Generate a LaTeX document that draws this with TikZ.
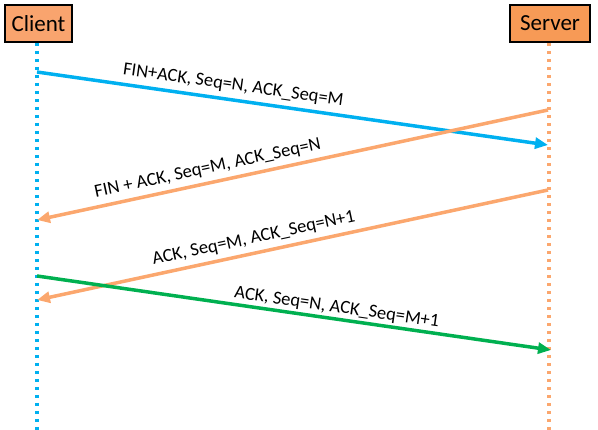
\documentclass[tikz,border=0pt]{standalone}
\usepackage{fontspec}
\setmainfont{Carlito}
\usetikzlibrary{arrows.meta,positioning}
\definecolor{skyline}{HTML}{00B0F0}
\definecolor{peach}{HTML}{F9A46E}
\definecolor{tangerine}{HTML}{F79A56}
\definecolor{peachline}{HTML}{FBA76E}
\definecolor{leaf}{HTML}{00B050}
\tikzset{actor/.style={draw=black,line width=2pt,fill=peach,minimum height=37pt,inner sep=4pt,font=\fontsize{23}{27}\selectfont},lifeline/.style={line width=3.5pt,dash pattern=on 3.5pt off 4.5pt},msg/.style={-{Triangle[length=13pt,width=11pt]},line width=3.5pt},lbl/.style={sloped,above=2pt,inner sep=3pt,font=\fontsize{18.5}{22}\selectfont}}

\begin{document}
\begin{tikzpicture}[x=1pt,y=-1pt]
\useasboundingbox (0,0) rectangle (598,430);
\node[actor,minimum width=67pt] (client) at (38.5,23.5) {Client};
\node[actor,minimum width=80pt,fill=tangerine] (server) at (550,23.5) {Server};
\coordinate (cend) at (37,430);
\coordinate (send) at (549,430);
\draw[lifeline,draw=skyline] (client.south -| cend) -- (cend);
\draw[lifeline,draw=peachline] (server.south -| send) -- (send);
% messages
\coordinate (c1) at (37,72);
\coordinate (s1) at (548,145);
\coordinate (s2) at (548,110);
\coordinate (c2) at (37,220);
\coordinate (s3) at (548,190);
\coordinate (c3) at (37,300);
\coordinate (c4) at (37,276);
\coordinate (s4) at (551,350);
\draw[msg,draw=skyline] (c1)--node[lbl,pos=0.38]{FIN+ACK, Seq=N, ACK\_Seq=M}(s1);
\draw[msg,draw=peachline] (s2)--node[lbl,pos=0.66]{FIN + ACK, Seq=M, ACK\_Seq=N}(c2);
\draw[msg,draw=peachline] (s3)--node[lbl,pos=0.57]{ACK, Seq=M, ACK\_Seq=N+1}(c3);
\draw[msg,draw=leaf] (c4)--node[lbl,pos=0.58,above=-1pt]{ACK, Seq=N, ACK\_Seq=M+1}(s4);
\end{tikzpicture}
\end{document}
